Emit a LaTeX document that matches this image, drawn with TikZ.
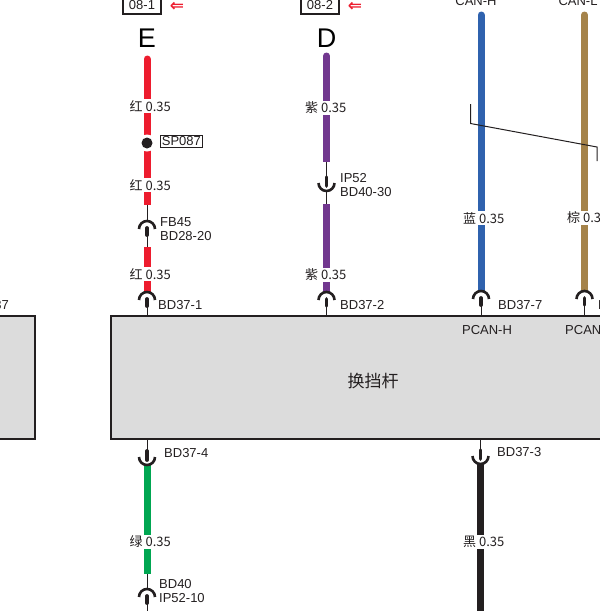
\documentclass[tikz,border=0pt]{standalone}
\usepackage{fontspec}
\setmainfont{Liberation Sans}
\newfontfamily\cjk{Noto Sans CJK SC}
\newfontfamily\arrowfont{DejaVu Sans Bold}
\definecolor{wirered}{HTML}{ED1C2E}
\definecolor{wirepurple}{HTML}{72388F}
\definecolor{wireblue}{HTML}{2F62AE}
\definecolor{wirebrown}{HTML}{A5834A}
\definecolor{wiregreen}{HTML}{00A651}
\definecolor{wireblack}{HTML}{231F20}
\definecolor{boxgray}{HTML}{DCDCDC}
\definecolor{textdark}{HTML}{231F20}
\tikzset{
  wire/.style={line width=7pt},
  thin wire/.style={line width=0.9pt, textdark},
  pin/.style={line width=3.8pt, line cap=round, textdark},
  cup/.style={line width=2.6pt, textdark},
  tag/.style={font=\fontsize{13}{14}\selectfont, text=textdark, anchor=west, inner sep=0pt, align=left},
  size/.style={font=\fontsize{13}{14}\selectfont, text=textdark, inner sep=1pt, fill=white, anchor=west},
  module/.style={draw=textdark, line width=2pt, fill=boxgray},
  sheet/.style={draw=textdark, line width=1.4pt, font=\fontsize{13}{14}\selectfont, text=textdark, inner sep=0pt, minimum width=38pt, minimum height=18pt},
  back/.style={font=\arrowfont\fontsize{17}{17}\selectfont, text=wirered, inner sep=0pt},
  letter/.style={font=\fontsize{27}{27}\selectfont, inner sep=0pt}
}
% connector opening upwards, (#1) is the top of the arc
\newcommand{\plugup}[1]{
  \draw[cup] ($(#1)+(-8,8)$) arc[start angle=180, end angle=360, radius=8];
  \draw[pin] ($(#1)+(0,7)$) -- ($(#1)+(0,14)$);
}
% connector opening downwards, (#1) is the bottom of the arc
\newcommand{\plugdown}[1]{
  \draw[cup] ($(#1)+(-8,-8)$) arc[start angle=180, end angle=0, radius=8];
  \draw[pin] ($(#1)+(0,-5)$) -- ($(#1)+(0,-14)$);
}
\usetikzlibrary{calc}
\begin{document}
\begin{tikzpicture}[x=1pt, y=-1pt]
  \useasboundingbox (0,0) rectangle (600,611);

  % Modules
  \draw[module] (-20,316) rectangle (35,439);
  \draw[module] (111,316) rectangle (620,439);
  \node[font=\cjk\fontsize{17}{17}\selectfont, text=textdark] (lever) at (373,381) {换挡杆};
  \node[tag, anchor=east] (leftpin) at (9,305) {BD37};
  \node[tag, anchor=center] (pcanh) at (487,330) {PCAN-H};
  \node[tag] (pcanl) at (565,330) {PCAN-L};

  % Sheet references
  \node[sheet] (sheeta) at (142,5) {08-1};
  \node[back] (backa) at (177,7) {⇐};
  \node[sheet] (sheetb) at (320,5) {08-2};
  \node[back] (backb) at (355,7) {⇐};
  \node[letter] (lettere) at (147,38) {E};
  \node[letter] (letterd) at (326.5,38) {D};
  \node[tag, anchor=center] (canh) at (476,1) {CAN-H};
  \node[tag, anchor=center] (canl) at (578,1) {CAN-L};

  % Red wire E
  \coordinate (ea) at (147,59);
  \coordinate (eb) at (147,143);
  \coordinate (ec) at (147,205);
  \coordinate (ed) at (147,221);
  \coordinate (ee) at (147,247);
  \coordinate (ef) at (147,292);
  \coordinate (eg) at (147,316);
  \draw[wire, wirered, line cap=round] (ea) -- (eb);
  \draw[wire, wirered] (eb) -- (ec);
  \draw[wire, wirered] (ee) -- (ef);
  \node[circle, fill=white, inner sep=0pt, minimum size=17pt] (spring) at (eb) {};
  \node[circle, fill=textdark, inner sep=0pt, minimum size=11pt] (spdot) at (eb) {};
  \node[draw=textdark, line width=0.7pt, tag, inner sep=1.5pt] (splabel) at (160,141) {SP087};
  \node[size] (ela) at (128.5,106) {\cjk 红\ 0.35};
  \node[size] (elb) at (128.5,185) {\cjk 红\ 0.35};
  \node[size] (elc) at (128.5,274) {\cjk 红\ 0.35};
  \draw[thin wire] (ec) -- (ed);
  \plugup{ed}
  \draw[thin wire] ($(ed)+(0,15)$) -- (ee);
  \node[tag] (fb) at (160,229) {FB45\\BD28-20};
  \plugup{ef}
  \draw[thin wire] ($(ef)+(0,15)$) -- (eg);
  \node[tag] (pina) at (158,305) {BD37-1};

  % Purple wire D
  \coordinate (da) at (326.5,56);
  \coordinate (dm) at (326.5,108);
  \coordinate (db) at (326.5,162);
  \coordinate (dc) at (326.5,191);
  \coordinate (dd) at (326.5,204);
  \coordinate (de) at (326.5,292);
  \coordinate (df) at (326.5,316);
  \draw[wire, wirepurple, line cap=round] (da) -- (dm);
  \draw[wire, wirepurple] (dm) -- (db);
  \draw[wire, wirepurple] (dd) -- (de);
  \node[size] (dla) at (304,108) {\cjk 紫\ 0.35};
  \node[size] (dlb) at (304,275) {\cjk 紫\ 0.35};
  \plugdown{dc}
  \draw[thin wire] (db) -- ($(dc)+(0,-15)$);
  \draw[thin wire] (dc) -- (dd);
  \node[tag] (ip) at (340,185) {IP52\\BD40-30};
  \plugup{de}
  \draw[thin wire] ($(de)+(0,15)$) -- (df);
  \node[tag] (pinb) at (340,305) {BD37-2};

  % CAN wires
  \coordinate (ha) at (481,15);
  \coordinate (hm) at (481,60);
  \coordinate (hb) at (481,291);
  \coordinate (hc) at (481,316);
  \coordinate (la) at (584.5,15);
  \coordinate (lm) at (584.5,60);
  \coordinate (lb) at (584.5,291);
  \coordinate (lc) at (584.5,316);
  \draw[wire, wireblue, line cap=round] (ha) -- (hm);
  \draw[wire, wireblue] (hm) -- (hb);
  \draw[wire, wirebrown, line cap=round] (la) -- (lm);
  \draw[wire, wirebrown] (lm) -- (lb);
  \node[size] (hl) at (462,218) {\cjk 蓝\ 0.35};
  \node[size] (ll) at (566,218) {\cjk 棕\ 0.35};
  \plugup{hb}
  \draw[thin wire] ($(hb)+(0,15)$) -- (hc);
  \plugup{lb}
  \draw[thin wire] ($(lb)+(0,15)$) -- (lc);
  \node[tag] (pinc) at (498,305) {BD37-7};
  \node[tag] (pind) at (598,305) {BD37-8};

  % Twisted pair mark
  \coordinate (ta) at (470.5,104);
  \coordinate (tb) at (470.5,123.5);
  \coordinate (tc) at (597,147);
  \coordinate (td) at (597,161);
  \draw[line width=1pt, textdark] (ta) -- (tb) -- (tc) -- (td);

  % Green wire
  \coordinate (ga) at (147,439);
  \coordinate (gb) at (147,465);
  \coordinate (gc) at (147,574);
  \coordinate (gd) at (147,589);
  \coordinate (ge) at (147,611);
  \draw[wire, wiregreen] (gb) -- (gc);
  \node[size] (gl) at (128.5,542) {\cjk 绿\ 0.35};
  \plugdown{gb}
  \draw[thin wire] (ga) -- ($(gb)+(0,-15)$);
  \node[tag] (pine) at (164,453) {BD37-4};
  \draw[thin wire] (gc) -- (gd);
  \plugup{gd}
  \draw[thin wire] ($(gd)+(0,15)$) -- (ge);
  \node[tag] (bd) at (159,591) {BD40\\IP52-10};

  % Black wire
  \coordinate (ka) at (480.5,439);
  \coordinate (kb) at (480.5,464);
  \coordinate (kc) at (480.5,611);
  \draw[wire, wireblack] (kb) -- (kc);
  \node[size] (kl) at (462,542) {\cjk 黑\ 0.35};
  \plugdown{kb}
  \draw[thin wire] (ka) -- ($(kb)+(0,-15)$);
  \node[tag] (pinf) at (497,452) {BD37-3};
\end{tikzpicture}
\end{document}
